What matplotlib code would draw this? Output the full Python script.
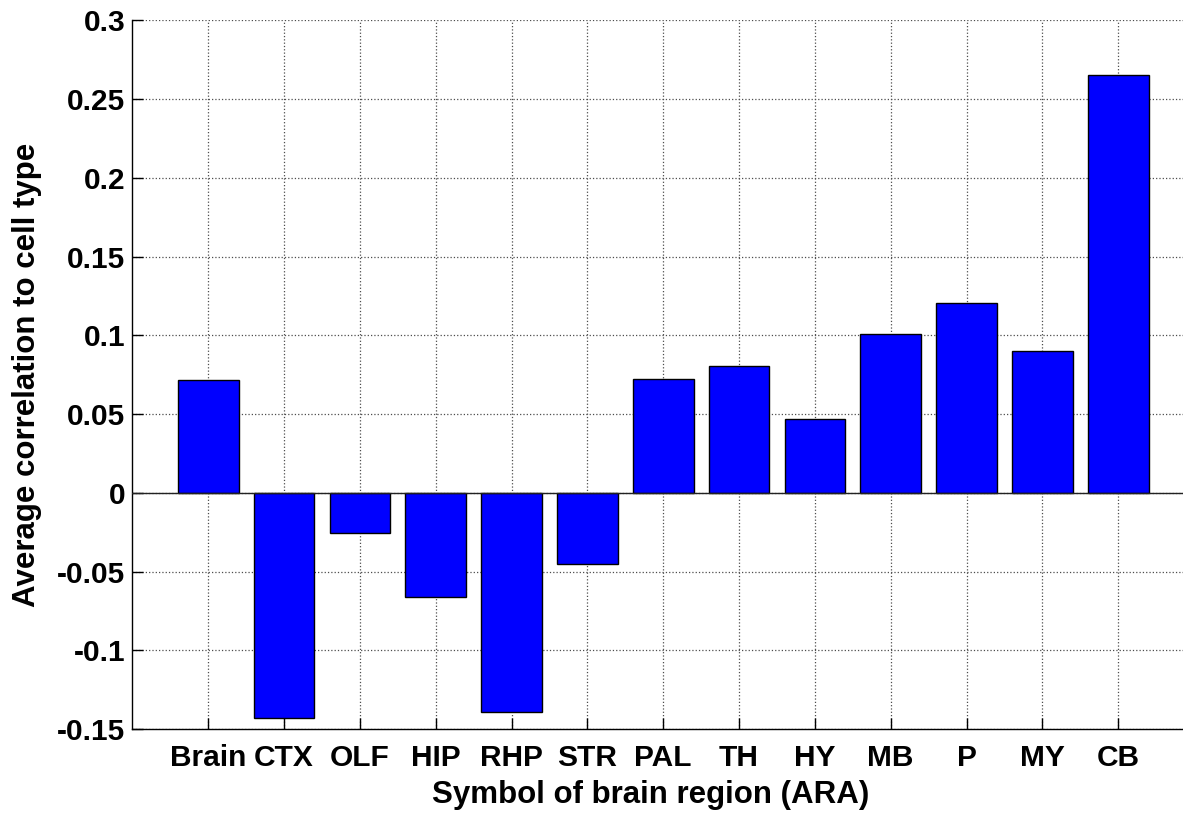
import matplotlib.pyplot as plt

# regioes e valores
regioes = ["Brain", "CTX", "OLF", "HIP", "RHP", "STR", "PAL", "TH", "HY", "MB", "P", "MY", "CB"]
valores = [0.0713, -0.1427, -0.0257, -0.0664, -0.1390, -0.0450, 0.0720, 0.0806, 0.0469, 0.1006, 0.1207, 0.0901, 0.2650]
yticks = [-0.15, -0.1, -0.05, 0, 0.05, 0.1, 0.15, 0.2, 0.25, 0.3]
yticklabels = ["-0.15", "-0.1", "-0.05", "0", "0.05", "0.1", "0.15", "0.2", "0.25", "0.3"]

plt.rcParams['font.family'] = ['Liberation Sans', 'DejaVu Sans']
plt.rcParams['font.weight'] = 'bold'

fig = plt.figure(figsize=(11.83, 8.18), dpi=100)
ax = fig.add_axes([0.1119, 0.1088, 0.8974, 0.8664])

pos = list(range(1, len(regioes) + 1))
ax.bar(pos, valores, width=0.8, color='#0000ff', edgecolor='black', linewidth=1, zorder=3)
ax.axhline(0, color='#222222', linewidth=1, zorder=4)

ax.set_xlim(0, 14)
ax.set_ylim(-0.15, 0.3)
ax.set_xticks(pos)
ax.set_xticklabels(regioes, fontsize=21.5, fontweight='bold')
ax.set_yticks(yticks)
ax.set_yticklabels(yticklabels, fontsize=21.5, fontweight='bold')

ax.grid(True, linestyle=':', color='0.3', linewidth=0.9, zorder=0)
ax.tick_params(direction='in', length=8, width=1, colors='black')
ax.tick_params(axis='x', pad=11)
ax.tick_params(axis='y', pad=5)

for s in ['top', 'right']:
    ax.spines[s].set_visible(False)
for s in ['left', 'bottom']:
    ax.spines[s].set_linewidth(1)

ax.set_xlabel("Symbol of brain region (ARA)", fontsize=22.5, fontweight='bold', labelpad=5)
ax.xaxis.set_label_coords(0.488, -0.072)
ax.set_ylabel("Average correlation to cell type", fontsize=22.5, fontweight='bold', labelpad=11)

fig.savefig("out.png", dpi=100)
